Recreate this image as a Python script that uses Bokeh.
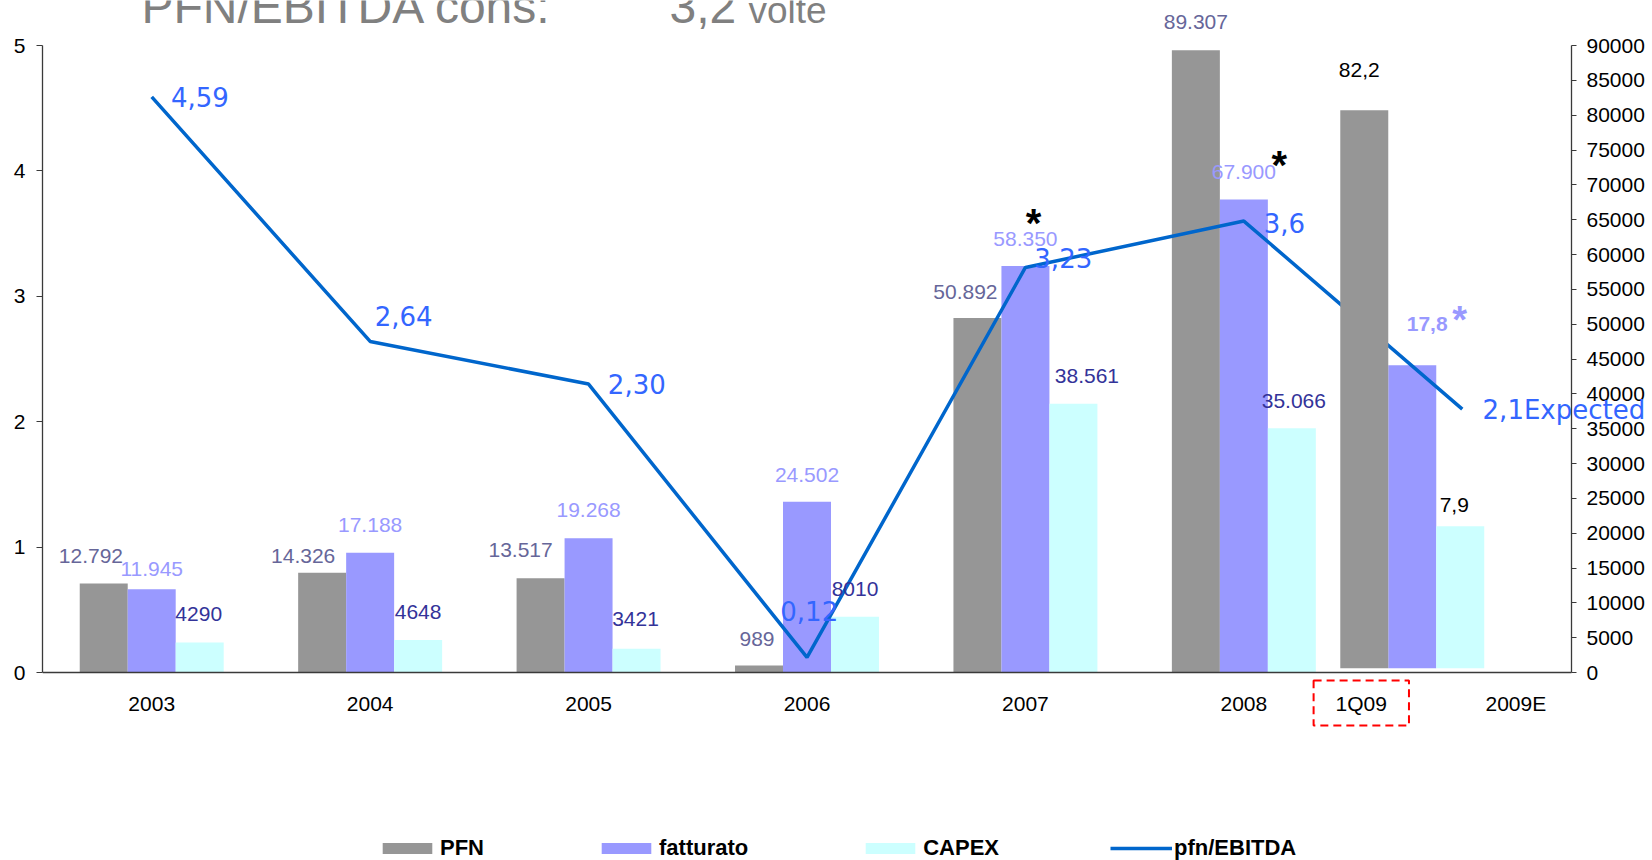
from bokeh.plotting import figure
from bokeh.models import (ColumnDataSource, Range1d, LinearAxis, FixedTicker,
                          LabelSet, Label, Legend, LegendItem, CustomJSTickFormatter)
from bokeh.core.properties import value
from bokeh.embed import file_html
from bokeh.resources import INLINE

# ---------------- data ----------------
years = ["2003", "2004", "2005", "2006", "2007", "2008"]
pfn = [12792, 14326, 13517, 989, 50892, 89307]
fatturato = [11945, 17188, 19268, 24502, 58350, 67900]
capex = [4290, 4648, 3421, 8010, 38561, 35066]
pfn_labels = ["12.792", "14.326", "13.517", "989", "50.892", "89.307"]
fatturato_labels = ["11.945", "17.188", "19.268", "24.502", "58.350", "67.900"]
capex_labels = ["4290", "4648", "3421", "8010", "38.561", "35.066"]

q1_name = "1Q09"
q1_pfn = 80700          # bar heights as drawn (right-axis units)
q1_fatturato = 44100
q1_capex = 21000
q1_base = 620
q1_pfn_label = "82,2"
q1_fatturato_label = "17,8"
q1_capex_label = "7,9"

ratio_categories = ["2003", "2004", "2005", "2006", "2007", "2008", "2009E"]
pfn_ebitda = [4.59, 2.64, 2.30, 0.12, 3.23, 3.6, 2.1]
pfn_ebitda_labels = ["4,59", "2,64", "2,30", "0,12", "3,23", "3,6", "2,1Expected"]

left_ticks = [0, 1, 2, 3, 4, 5]
right_ticks = [0, 5000, 10000, 15000, 20000, 25000, 30000, 35000, 40000, 45000,
               50000, 55000, 60000, 65000, 70000, 75000, 80000, 85000, 90000]

title_text = "PFN/EBITDA cons:"
title_value = "3,2"
title_unit = "volte"

# ---------------- layout / style ----------------
GROUP_X = [0, 1, 2, 3, 4, 5]
RATIO_X = [0, 1, 2, 3, 4, 5, 6]
Q1_GROUP_X = 5.771
Q1_TICK_X = 5.5376
E_TICK_X = 6.2454
BW = 0.2197
PX_X = 218.43                # px per category slot
PX_Y = 125.4                 # left axis: 0 at y=672px, 5 at y=45px
W, H = 1652, 860
LEFT = 42                    # left border (left axis)
X_MAX = 6.5 + (W - 1571) / PX_X       # frame runs to the right canvas edge
Y_TOP = 5 + 45 / PX_Y                 # ... to the top edge
Y_BOT = -(H - 672) / PX_Y             # ... and to the bottom edge
K = 18000                    # right axis units per left axis unit

C_PFN = "#969696"
C_FAT = "#9999FF"
C_CAPEX = "#CCFFFF"
C_LINE = "#0066CC"
C_AXIS = "#3a3a3a"
FONT = "Liberation Sans"

p = figure(width=W, height=H, x_range=Range1d(-0.5, X_MAX), y_range=Range1d(Y_BOT, Y_TOP),
           output_backend="svg", toolbar_location=None,
           min_border_left=LEFT, min_border_right=0, min_border_top=0, min_border_bottom=0)
p.extra_y_ranges = {"right": Range1d(Y_BOT * K, Y_TOP * K)}
p.xgrid.visible = False
p.ygrid.visible = False
p.outline_line_color = None
p.background_fill_color = "white"
p.border_fill_color = "white"

def plain_axis(ax):
    ax.minor_tick_out = 0
    ax.minor_tick_in = 0
    ax.major_tick_in = 0
    ax.axis_line_color = C_AXIS
    ax.axis_line_width = 1.3
    ax.major_tick_line_color = C_AXIS
    ax.major_label_text_font = FONT
    ax.major_label_text_font_size = "21px"
    ax.major_label_text_color = "black"

# x axis, drawn at y = 0
xa = p.xaxis[0]
xa.fixed_location = 0
xa.bounds = (-0.5, 6.5)
xa.ticker = FixedTicker(ticks=GROUP_X + [E_TICK_X])
xa.formatter = CustomJSTickFormatter(
    args=dict(pos=GROUP_X + [E_TICK_X], names=ratio_categories),
    code="""
    for (let i = 0; i < pos.length; i++) {
        if (Math.abs(tick - pos[i]) < 1e-6) return names[i];
    }
    return '';
    """)
plain_axis(xa)
xa.major_tick_out = 0
xa.major_label_standoff = 19

# left axis
ya = p.yaxis[0]
ya.ticker = FixedTicker(ticks=left_ticks)
ya.bounds = (0, 5)
plain_axis(ya)
ya.major_tick_out = 6
ya.major_label_standoff = 11

# right axis, drawn at the end of the last category slot
ra = LinearAxis(y_range_name="right", ticker=FixedTicker(ticks=right_ticks), bounds=(0, 90000),
                fixed_location=6.5)
plain_axis(ra)
ra.major_tick_out = 5
ra.major_label_standoff = 10
p.add_layout(ra, "right")

# ---------------- bars ----------------
pfn_src = ColumnDataSource(dict(
    x=[g - BW for g in GROUP_X], top=pfn, text=pfn_labels,
    dx=[-12.8, -19, -20, -2, -12, 0], dy=[27.7, 16.3, 28, 27, 26, 28.5]))
fat_src = ColumnDataSource(dict(
    x=list(GROUP_X), top=fatturato, text=fatturato_labels,
    dx=[0, 0, 0, 0, 0, 0], dy=[20, 28, 28.5, 27, 27.4, 27.4]))
capex_src = ColumnDataSource(dict(
    x=[g + BW for g in GROUP_X], top=capex, text=capex_labels,
    dx=[-1, 0, -1, 0, 13.5, 2], dy=[29, 28.5, 29.7, 27.2, 28.2, 27.3]))

r_pfn = p.vbar(x="x", top="top", bottom=0, width=BW, source=pfn_src, y_range_name="right",
               fill_color=C_PFN, line_color=None)
r_fat = p.vbar(x="x", top="top", bottom=0, width=BW, source=fat_src, y_range_name="right",
               fill_color=C_FAT, line_color=None)
r_capex = p.vbar(x="x", top="top", bottom=0, width=BW, source=capex_src, y_range_name="right",
                 fill_color=C_CAPEX, line_color=None)

# 1Q09 group
q1_src = ColumnDataSource(dict(x=[Q1_GROUP_X, Q1_GROUP_X + BW], top=[q1_fatturato, q1_capex],
                               bottom=[q1_base, q1_base], color=[C_FAT, C_CAPEX]))
p.vbar(x="x", top="top", bottom="bottom", width=BW, source=q1_src, y_range_name="right",
       fill_color="color", line_color=None)

# ratio line
ratio_src = ColumnDataSource(dict(
    x=RATIO_X, y=pfn_ebitda, text=pfn_ebitda_labels,
    dx=[19.3, 4.5, 19.3, -26.7, 8.9, 19.8, 20.3], dy=[0, 25, 0, 46, 9.5, -2, -1]))
r_line = p.line(x="x", y="y", source=ratio_src, line_color=C_LINE, line_width=3.5)

# 1Q09 PFN bar drawn over the line
q1p_src = ColumnDataSource(dict(x=[Q1_GROUP_X - BW], top=[q1_pfn], bottom=[q1_base]))
p.vbar(x="x", top="top", bottom="bottom", width=BW, source=q1p_src, y_range_name="right",
       fill_color=C_PFN, line_color=None)

# ---------------- labels ----------------
def bar_labels(src, color):
    return LabelSet(x="x", y="top", text="text", x_offset="dx", y_offset="dy", source=src,
                    y_range_name="right", text_align="center", text_baseline="middle",
                    text_font=value(FONT), text_font_size=value("21px"), text_color=color)

p.add_layout(bar_labels(pfn_src, "#666699"))
p.add_layout(bar_labels(fat_src, "#9999FF"))
p.add_layout(bar_labels(capex_src, "#333399"))

p.add_layout(LabelSet(x="x", y="y", text="text", x_offset="dx", y_offset="dy", source=ratio_src,
                      text_align="left", text_baseline="middle",
                      text_font=value("DejaVu Sans"), text_font_size=value("26px"),
                      text_color="#3366FF"))

star_src = ColumnDataSource(dict(x=[4, 5], y=[fatturato[4], fatturato[5]], text=["*", "*"],
                                 dx=[8.1, 35.5], dy=[28.6, 20.9]))
p.add_layout(LabelSet(x="x", y="y", text="text", x_offset="dx", y_offset="dy", source=star_src,
                      y_range_name="right", text_align="center", text_baseline="alphabetic",
                      text_font=value(FONT), text_font_size=value("40px"),
                      text_font_style="bold", text_color="black"))

def single(x, y, text, dx, dy, color, size="21px", style="normal"):
    return Label(x=x, y=y, y_range_name="right", text=text, x_offset=dx, y_offset=dy,
                 text_align="center", text_baseline="middle", text_font=FONT,
                 text_font_size=size, text_font_style=style, text_color=color)

p.add_layout(single(Q1_GROUP_X - BW, q1_pfn, q1_pfn_label, -5, 40, "black"))
p.add_layout(single(Q1_GROUP_X, q1_fatturato, q1_fatturato_label, 14.9, 41.2, "#9999FF", style="bold"))
p.add_layout(single(Q1_GROUP_X, q1_fatturato, "*", 47.5, 44.8, "#9999FF", size="38px", style="bold"))
p.add_layout(single(Q1_GROUP_X + BW, q1_capex, q1_capex_label, -6, 21, "black"))

# 1Q09 boxed category label
p.add_layout(Label(x=Q1_TICK_X, y=-(702.5 - 672) / PX_Y, text=q1_name,
                   text_align="center", text_baseline="middle",
                   text_font=FONT, text_font_size="21px", text_color="black",
                   border_line_color="#FF0000", border_line_width=2, border_line_dash="8 5",
                   padding=dict(left=22, right=22, top=11, bottom=11)))

# title (cut at the top, as in the slide); anchored at the text-box middle
for tx, ty, txt, size in [(-0.0468, 5.3081, title_text, "48px"), (2.3705, 5.3081, title_value, "48px"),
                          (2.7322, 5.2777, title_unit, "37px")]:
    p.add_layout(Label(x=tx, y=ty, text=txt, text_align="left",
                       text_baseline="middle", text_font=FONT, text_font_size=size,
                       text_color="#808080"))

# ---------------- legend (bottom strip, inside the frame) ----------------
legend = Legend(items=[LegendItem(label="PFN", renderers=[r_pfn]),
                       LegendItem(label="fatturato", renderers=[r_fat]),
                       LegendItem(label="CAPEX", renderers=[r_capex]),
                       LegendItem(label="pfn/EBITDA", renderers=[r_line])],
                orientation="horizontal", location=(334, -1), spacing=111,
                glyph_width=62, glyph_height=14, label_standoff=2, label_height=26,
                padding=0, margin=0, border_line_color=None, background_fill_alpha=0,
                label_text_font=FONT, label_text_font_style="bold",
                label_text_font_size="22px", label_text_color="black")
p.add_layout(legend, "center")

open("out.html", "w").write(file_html(p, INLINE))
